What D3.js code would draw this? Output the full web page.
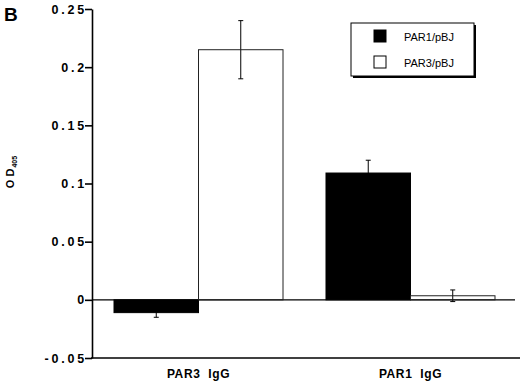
<!DOCTYPE html>
<html><head><meta charset="utf-8">
<script src="https://cdn.jsdelivr.net/npm/d3@7"></script>
<style>body{margin:0;background:#fff}svg{display:block}</style>
</head><body>
<svg id="c" width="520" height="382"></svg>
<script>
const categories = ["PAR3  IgG", "PAR1  IgG"];
const series = ["PAR1/pBJ", "PAR3/pBJ"];
const valuesPAR1 = [-0.011, 0.109];
const errorsPAR1 = [0.004, 0.011];
const valuesPAR3 = [0.215, 0.0035];
const errorsPAR3 = [0.025, 0.005];
const yTicks = [-0.05, 0, 0.05, 0.1, 0.15, 0.2, 0.25];
const yTickLabels = ["-0.05", "0", "0.05", "0.1", "0.15", "0.2", "0.25"];

const svg = d3.select("#c");
const font = "Liberation Sans, Arial, sans-serif";
const y = d3.scaleLinear().domain([-0.05, 0.25]).range([358, 9]);
const x0 = d3.scaleBand().domain(categories).range([92, 517]).paddingInner(0.2028).paddingOuter(0.1038);
const x1 = d3.scaleBand().domain(series).range([0, x0.bandwidth()]);
const fills = {"PAR1/pBJ": "#000", "PAR3/pBJ": "#fff"};

const data = [];
categories.forEach((c, i) => {
  data.push({cat: c, s: series[0], v: valuesPAR1[i], e: errorsPAR1[i]});
  data.push({cat: c, s: series[1], v: valuesPAR3[i], e: errorsPAR3[i]});
});

// zero line
svg.append("line").attr("x1", 92).attr("x2", 515).attr("y1", y(0)).attr("y2", y(0))
  .attr("stroke", "#000").attr("stroke-width", 1.2);

// error bars
const eb = svg.append("g");
data.forEach(d => {
  const cx = x0(d.cat) + x1(d.s) + x1.bandwidth() / 2;
  const g = eb.append("g").attr("stroke", "#000").attr("stroke-width", 1);
  g.append("line").attr("x1", cx).attr("x2", cx).attr("y1", y(d.v + d.e)).attr("y2", y(d.v - d.e));
  g.append("line").attr("x1", cx - 2.5).attr("x2", cx + 2.5).attr("y1", y(d.v + d.e)).attr("y2", y(d.v + d.e));
  g.append("line").attr("x1", cx - 2.5).attr("x2", cx + 2.5).attr("y1", y(d.v - d.e)).attr("y2", y(d.v - d.e));
});

// bars
svg.append("g").selectAll("rect").data(data).join("rect")
  .attr("x", d => x0(d.cat) + x1(d.s))
  .attr("width", x1.bandwidth())
  .attr("y", d => y(Math.max(0, d.v)))
  .attr("height", d => Math.abs(y(d.v) - y(0)))
  .attr("fill", d => d.s === series[0] ? "#000" : "none")
  .attr("stroke", d => d.s === series[0] ? "#000" : "#222")
  .attr("stroke-width", 1);

// y axis
const yAxis = d3.axisLeft(y).tickValues(yTicks).tickSize(7).tickSizeOuter(0)
  .tickFormat((d, i) => yTickLabels[i]);
const ga = svg.append("g").attr("transform", "translate(92,0)").call(yAxis);
ga.select(".domain").attr("stroke-width", 1.6);
ga.selectAll(".tick line").attr("stroke-width", 1.6);
ga.selectAll(".tick text").attr("font-family", font)
  .attr("font-weight", "bold").attr("font-size", 12.5).attr("letter-spacing", "2.8px").attr("x", -5);

// bottom axis line
svg.append("line").attr("x1", 91).attr("x2", 520).attr("y1", 358).attr("y2", 358)
  .attr("stroke", "#000").attr("stroke-width", 1.6);

// category labels
svg.append("g").selectAll("text").data(categories).join("text")
  .attr("x", d => x0(d) + x0.bandwidth() / 2).attr("y", 378)
  .attr("text-anchor", "middle").attr("font-family", font)
  .attr("font-weight", "bold").attr("font-size", 12).attr("letter-spacing", "0.6px")
  .attr("xml:space", "preserve").style("white-space", "pre").text(d => d);

// y label
const yl = svg.append("text").attr("transform", "translate(14,172) rotate(-90)")
  .attr("text-anchor", "middle").attr("font-family", font)
  .attr("font-weight", "bold").attr("font-size", 11);
yl.append("tspan").text("O D");
yl.append("tspan").attr("font-size", 7).attr("dy", 3).attr("dx", 1).text("405");

// panel letter
svg.append("text").attr("x", 4).attr("y", 21).attr("font-family", font)
  .attr("font-weight", "bold").attr("font-size", 19).text("B");

// legend
const lg = svg.append("g");
lg.append("rect").attr("x", 353).attr("y", 25).attr("width", 123).attr("height", 53).attr("fill", "#000");
lg.append("rect").attr("x", 351).attr("y", 23).attr("width", 123).attr("height", 53)
  .attr("fill", "#fff").attr("stroke", "#000").attr("stroke-width", 1);
series.forEach((s, i) => {
  lg.append("rect").attr("x", 374).attr("y", 30 + i * 26).attr("width", 12).attr("height", 12)
    .attr("fill", fills[s]).attr("stroke", "#000").attr("stroke-width", 1);
  lg.append("text").attr("x", 404).attr("y", 41 + i * 26).attr("font-family", font)
    .attr("font-size", 11).text(s);
});
</script>
</body></html>
